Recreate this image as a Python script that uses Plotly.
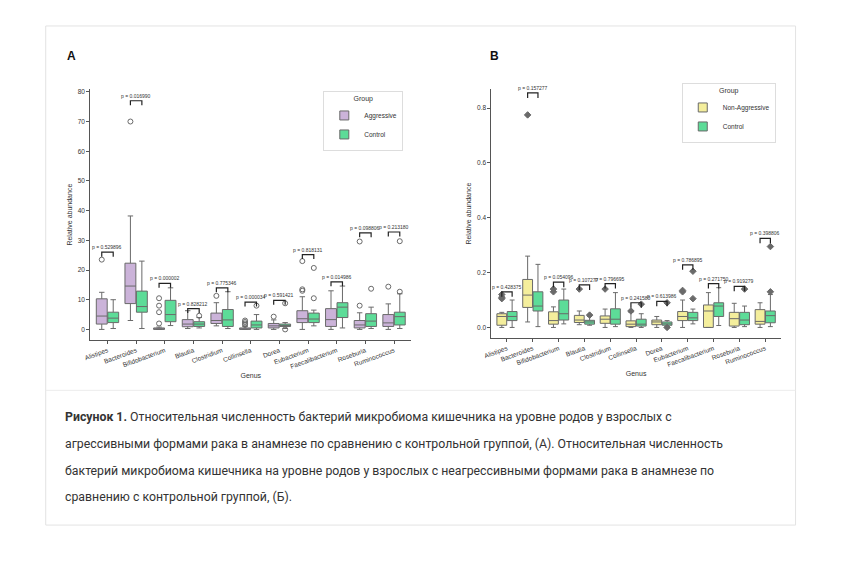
import plotly.graph_objects as go

genus = ["Alistipes","Bacteroides","Bifidobacterium","Blautia","Clostridium","Collinsella","Dorea",
         "Eubacterium","Faecalibacterium","Roseburia","Ruminococcus"]

# panel A: [lowerfence, q1, median, q3, upperfence]
agg = [[0,1.8,4.5,10.3,12.5],[3,8.7,14.6,22.3,38.2],[0,0,0.2,0.5,0.8],[0.3,0.9,1.8,3.3,6.3],
       [1.2,2,3,5.5,9],[0,0,0.2,0.5,1],[0,0.5,1.2,2,3.2],[0,2.3,3.6,6.3,11],[0,1,3.3,7,13],
       [0,0.5,1.5,3,5.6],[0,1,2.2,5,8.6]]
agg_out = [[23.5],[70],[2,5.8,8,10.5],[],[11.3],[1.5,2,2.5,3],[4.3],[13,13.5,23],[],[8,29.6],[14.4]]
ctlA = [[0.3,2.3,3.8,5.8,10],[0.3,5.8,7.7,12.9,23],[1.3,2.6,5,9.8,14],[0.5,1,1.8,2.6,4],
        [0.3,1,3.2,6.7,12.7],[0,0.5,1.5,2.8,5],[0.3,1,1.3,1.8,2.3],[1.2,2.3,3.5,5.5,6.5],
        [0.5,4,7.5,9,14.6],[0.3,1,2.8,5.3,7.5],[0.3,1.5,4.3,5.8,12]]
ctlA_out = [[],[],[],[4.6],[],[8],[0,8.8],[10.5,20.7],[],[13.7],[12.7,29.7]]
pA = ["0.529896","0.016990","0.000002","0.828212","0.775346","0.000034","0.591421",
      "0.818131","0.014986","0.098806","0.213180"]
brA = [26,77,15.5,7,14,9.2,9.8,25.2,16,32.5,32.8]

# panel B
nag = [[0,0.008,0.04,0.05,0.055],[0.02,0.073,0.118,0.175,0.26],[0,0.012,0.025,0.057,0.075],
       [0.01,0.018,0.027,0.044,0.06],[0,0.015,0.03,0.042,0.067],[0,0.003,0.012,0.024,0.055],
       [0,0.01,0.02,0.027,0.04],[0,0.025,0.04,0.058,0.1],[0,0,0.06,0.082,0.127],
       [0,0.005,0.032,0.055,0.088],[0,0.012,0.022,0.065,0.09]]
nag_out = [[0.105,0.11,0.12],[0.775],[0.13,0.14],[0.14],[0.14],[0.06],[],[0.13,0.135],[],[],[]]
ctlB = [[0,0.025,0.04,0.058,0.1],[0.003,0.06,0.078,0.13,0.23],[0.013,0.027,0.05,0.1,0.14],
        [0.008,0.012,0.02,0.026,0.04],[0.003,0.012,0.03,0.068,0.127],[0,0.005,0.012,0.03,0.05],
        [0.003,0.008,0.013,0.02,0.025],[0.013,0.025,0.035,0.055,0.067],[0.007,0.04,0.078,0.09,0.145],
        [0.003,0.01,0.027,0.055,0.078],[0.003,0.017,0.043,0.06,0.12]]
ctlB_out = [[],[],[],[0.045],[],[0.085],[0,0.09],[0.105,0.205],[],[0.14],[0.13,0.295]]
pB = ["0.428375","0.157277","0.054096","0.107277","0.796695","0.241580","0.613986",
      "0.786895","0.271750","0.919279","0.398806"]
brB = [0.13,0.855,0.165,0.155,0.16,0.09,0.095,0.228,0.16,0.15,0.325]

C_AGG, C_CTL, C_NAG = "#cbb3d9", "#5ddc98", "#f4ee9c"
LINE = "#6a6a6a"
W, H = 848, 563
DX, DY = -13, -8
def px(p): return (p + DX) / W
def py(p): return 1 - (p + DY) / H

fig = go.Figure()
off = 0.2

def add_boxes(stats, outs, color, name, sign, xa, ya, legend, marker_sym):
    xs = [i + sign*off for i in range(len(genus))]
    fig.add_trace(go.Box(
        x=xs, lowerfence=[s[0] for s in stats], q1=[s[1] for s in stats],
        median=[s[2] for s in stats], q3=[s[3] for s in stats],
        upperfence=[s[4] for s in stats], width=0.38, fillcolor=color,
        line=dict(color=LINE, width=1), name=name, xaxis=xa, yaxis=ya,
        showlegend=False, boxpoints=False))
    ox, oy = [], []
    for i, o in enumerate(outs):
        for v in o:
            ox.append(i + sign*off); oy.append(v)
    fig.add_trace(go.Scatter(x=ox, y=oy, mode="markers", showlegend=False, xaxis=xa, yaxis=ya,
                             marker=dict(symbol=marker_sym, size=5, color=LINE,
                                         line=dict(color=LINE, width=1))))
    fig.add_trace(go.Scatter(x=[None], y=[None], mode="markers", name=name, xaxis=xa, yaxis=ya,
                             legend=legend, marker=dict(symbol="square", size=9, color=color,
                                                        line=dict(color=LINE, width=1))))

add_boxes(agg, agg_out, C_AGG, "Aggressive", -1, "x", "y", "legend", "circle-open")
add_boxes(ctlA, ctlA_out, C_CTL, "Control", 1, "x", "y", "legend", "circle-open")
add_boxes(nag, nag_out, C_NAG, "Non-Aggressive", -1, "x2", "y2", "legend2", "diamond")
add_boxes(ctlB, ctlB_out, C_CTL, "Control", 1, "x2", "y2", "legend2", "diamond")

shapes, ann = [], []
def brackets(br, ps, xr, yr, drop):
    for i, (b, p) in enumerate(zip(br, ps)):
        shapes.append(dict(type="path", xref=xr, yref=yr,
                           path=f"M {i-off},{b-drop} L {i-off},{b} L {i+off},{b} L {i+off},{b-drop}",
                           line=dict(color="#222", width=1.2)))
        ann.append(dict(x=i, y=b, xref=xr, yref=yr, text=f"p = {p}", showarrow=False,
                        yanchor="bottom", font=dict(size=5, color="#333")))
brackets(brA, pA, "x", "y", 1.5)
brackets(brB, pB, "x2", "y2", 0.018)

shapes.append(dict(type="rect", xref="paper", yref="paper", x0=px(43), x1=px(800),
                   y0=py(525), y1=py(25), line=dict(color="#e3e3e3", width=1), layer="below"))
shapes.append(dict(type="line", xref="paper", yref="paper", x0=px(43), x1=px(800),
                   y0=py(390), y1=py(390), line=dict(color="#ececec", width=1)))
ann.append(dict(x=px(62), y=py(46), xref="paper", yref="paper", text="<b>A</b>", showarrow=False,
                xanchor="left", font=dict(size=12, color="#111")))
ann.append(dict(x=px(489), y=py(46), xref="paper", yref="paper", text="<b>B</b>", showarrow=False,
                xanchor="left", font=dict(size=12, color="#111")))
cap = ["<b>Рисунок 1.</b> Относительная численность бактерий микробиома кишечника на уровне родов у взрослых с",
       "агрессивными формами рака в анамнезе по сравнению с контрольной группой, (А). Относительная численность",
       "бактерий микробиома кишечника на уровне родов у взрослых с неагрессивными формами рака в анамнезе по",
       "сравнению с контрольной группой, (Б)."]
for k, line in enumerate(cap):
    ann.append(dict(x=px(60), y=py(417+26.7*k), xref="paper", yref="paper", text=line,
                    showarrow=False, xanchor="left", yanchor="middle",
                    font=dict(size=12.3, color="#333", family="Roboto")))

axcommon = dict(showline=True, linecolor="#555", linewidth=1, ticks="outside", ticklen=3,
                tickcolor="#555", showgrid=False, zeroline=False, tickfont=dict(size=6.5, color="#333"))
leg = dict(xanchor="right", yanchor="top", title=dict(text="Group", side="top center", font=dict(size=7)),
           font=dict(size=6.5), bordercolor="#ddd", borderwidth=1, bgcolor="white",
           tracegroupgap=0, itemwidth=30)
fig.update_layout(
    width=W, height=H, margin=dict(l=0, r=0, t=0, b=0), paper_bgcolor="white",
    plot_bgcolor="white", font=dict(family="Liberation Sans", color="#333"),
    shapes=shapes, annotations=ann,
    xaxis=dict(domain=[px(88), px(412)], range=[-0.6, 10.6], tickvals=list(range(11)), ticktext=genus,
               tickangle=-20, anchor="y", title=dict(text="Genus", font=dict(size=7), standoff=4), **axcommon),
    yaxis=dict(domain=[py(340), py(88)], range=[-3.7, 81], dtick=10, anchor="x",
               title=dict(text="Relative abundance", font=dict(size=7), standoff=4), **axcommon),
    xaxis2=dict(domain=[px(493), px(785)], range=[-0.6, 10.6], tickvals=list(range(11)), ticktext=genus,
                tickangle=-20, anchor="y2", title=dict(text="Genus", font=dict(size=7), standoff=4), **axcommon),
    yaxis2=dict(domain=[py(338), py(88)], range=[-0.04, 0.87], dtick=0.2, tickformat=".1f", anchor="x2",
                title=dict(text="Relative abundance", font=dict(size=7), standoff=4), **axcommon),
    legend=dict(x=px(404), y=py(90), **leg),
    legend2=dict(x=px(780), y=py(82), **leg),
)
fig.write_html("out.html")
